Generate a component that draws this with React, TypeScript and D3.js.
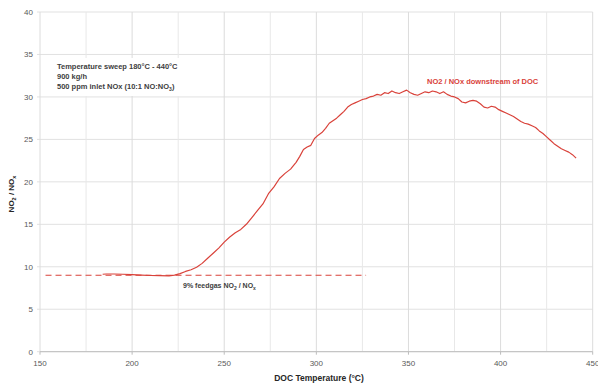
import * as d3 from "d3";

const temps = [
  184, 186, 190, 195, 200, 205, 210, 215, 220, 223, 226, 229, 232, 235, 238, 241, 244, 247, 250,
  253, 256, 259, 262, 265, 268, 271, 274, 277, 280, 283, 286, 289, 291, 293, 295, 297, 299, 301,
  303, 305, 307, 309, 311, 313, 315, 317, 319, 321, 323, 325, 327, 329, 331, 333, 335, 337, 339,
  341, 343, 345, 347, 349, 351, 353, 355, 357, 359, 361, 363, 365, 367, 369, 371, 373, 375, 377,
  379, 381, 383, 385, 387, 389, 391, 393, 395, 397, 399, 401, 403, 405, 407, 409, 411, 413, 415,
  417, 419, 421, 423, 425, 427, 429, 431, 433, 435, 437, 439, 441,
];
const ratios = [
  9.12, 9.15, 9.15, 9.12, 9.08, 9.02, 8.97, 8.95, 8.93, 9.02, 9.2, 9.45, 9.65, 9.95, 10.4, 11.0,
  11.6, 12.2, 12.9, 13.5, 14.0, 14.4, 15.0, 15.8, 16.6, 17.4, 18.6, 19.4, 20.4, 21.0, 21.5, 22.3,
  23.0, 23.8, 24.1, 24.3, 25.1, 25.5, 25.8, 26.3, 26.9, 27.2, 27.5, 27.9, 28.3, 28.8, 29.1, 29.3,
  29.5, 29.7, 29.8, 30.0, 30.1, 30.3, 30.2, 30.5, 30.4, 30.7, 30.5, 30.4, 30.6, 30.8, 30.5, 30.3,
  30.2, 30.4, 30.6, 30.5, 30.7, 30.6, 30.4, 30.6, 30.3, 30.1, 30.0, 29.8, 29.4, 29.3, 29.5, 29.6,
  29.5, 29.2, 28.8, 28.7, 28.9, 28.8, 28.5, 28.3, 28.1, 27.9, 27.7, 27.4, 27.1, 26.9, 26.8, 26.6,
  26.4, 26.0, 25.7, 25.3, 24.9, 24.5, 24.2, 23.9, 23.7, 23.5, 23.2, 22.8,
];
const feedgas = { from: 153, to: 327, value: 9 };
const xMajor = [150, 200, 250, 300, 350, 400, 450];
const xGrid = d3.range(150, 451, 25);
const yTicks = [0, 5, 10, 15, 20, 25, 30, 35, 40];
const notes = ["Temperature sweep 180°C - 440°C", "900 kg/h"];

export default function App() {
  const width = 598;
  const height = 383;
  const x = d3.scaleLinear().domain([150, 450]).range([40, 592.7]);
  const y = d3.scaleLinear().domain([0, 40]).range([351.7, 12]);
  const RED = "#d9423a";
  const font = "'Liberation Sans', Arial, sans-serif";

  const line = d3
    .line<number>()
    .x((_, i) => x(temps[i]))
    .y((d) => y(d));

  return (
    <svg
      width={width}
      height={height}
      style={{ position: "absolute", left: 0, top: 0, background: "#fff" }}
      fontFamily={font}
    >
      {/* grid */}
      {yTicks.map((t) => (
        <line key={"h" + t} x1={x(150) - 3} x2={x(450)} y1={y(t)} y2={y(t)} stroke="#e1e1e1" strokeWidth={1} />
      ))}
      {xGrid.map((t) => (
        <line key={"v" + t} x1={x(t)} x2={x(t)} y1={y(40)} y2={y(0)} stroke={t % 50 === 0 ? "#dcdcdc" : "#e8e8e8"} strokeWidth={1} />
      ))}
      <line x1={x(150)} x2={x(450)} y1={y(0)} y2={y(0)} stroke="#bdbdbd" strokeWidth={1} />
      {xMajor.map((t) => (
        <line key={"xt" + t} x1={x(t)} x2={x(t)} y1={y(0)} y2={y(0) + 3} stroke="#bdbdbd" />
      ))}

      {/* tick labels */}
      {yTicks.map((t) => (
        <text key={"yl" + t} x={33} y={y(t)} dy="0.35em" textAnchor="end" fontSize={8} fill="#595959">
          {t}
        </text>
      ))}
      {xMajor.map((t) => (
        <text key={"xl" + t} x={x(t)} y={365.5} textAnchor="middle" fontSize={8} fill="#595959">
          {t}
        </text>
      ))}

      {/* axis titles */}
      <text x={319} y={381} textAnchor="middle" fontSize={8.5} fontWeight="bold" fill="#262626">
        DOC Temperature (°C)
      </text>
      <text transform="translate(14,194) rotate(-90)" textAnchor="middle" fontSize={8} fontWeight="bold" fill="#262626">
        NO<tspan fontSize={5.5} dy={2}>2</tspan>
        <tspan dy={-2}> / NO</tspan>
        <tspan fontSize={5.5} dy={2}>x</tspan>
      </text>

      {/* feedgas reference */}
      <line
        x1={x(feedgas.from)}
        x2={x(feedgas.to)}
        y1={y(feedgas.value)}
        y2={y(feedgas.value)}
        stroke={RED}
        strokeWidth={1.2}
        strokeDasharray="6 4"
      />
      <text x={183} y={288} fontSize={7} fontWeight="bold" fill="#404040">
        9% feedgas NO<tspan fontSize={5} dy={1.5}>2</tspan>
        <tspan dy={-1.5}> / NO</tspan>
        <tspan fontSize={5} dy={1.5}>x</tspan>
      </text>

      {/* measured curve */}
      <path d={line(ratios) ?? ""} fill="none" stroke={RED} strokeWidth={1.2} strokeLinejoin="round" />
      <text x={427} y={84} fontSize={7.5} fontWeight="bold" fill={RED}>
        NO2 / NOx downstream of DOC
      </text>

      {/* notes box */}
      <rect x={54} y={58} width={132} height={38} fill="#fff" />
      {notes.map((n, i) => (
        <text key={n} x={57} y={69 + i * 10} fontSize={7.5} fontWeight="bold" fill="#404040">
          {n}
        </text>
      ))}
      <text x={57} y={89} fontSize={7.5} fontWeight="bold" fill="#404040">
        500 ppm inlet NOx (10:1 NO:NO<tspan fontSize={5} dy={1.5}>3</tspan>
        <tspan dy={-1.5}>)</tspan>
      </text>
    </svg>
  );
}
